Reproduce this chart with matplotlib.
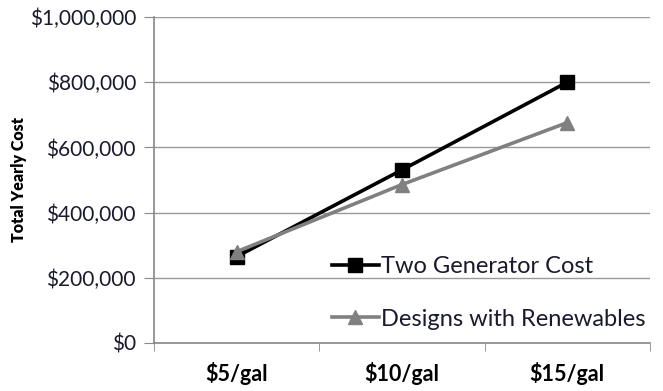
import matplotlib.pyplot as plt
import matplotlib.ticker as mticker
import numpy as np

categories = ["$5/gal", "$10/gal", "$15/gal"]
two_generator = [265000, 531000, 800000]
renewables = [280000, 486000, 676000]

plt.rcParams['font.family'] = ['Lato', 'DejaVu Sans']

fig = plt.figure(figsize=(6.63, 3.91), dpi=100)
ax = fig.add_axes([0.2323, 0.1228, 0.7480, 0.8337])

x = np.arange(len(categories)) + 0.5
ax.plot(x, two_generator, color='black', lw=2.6, marker='s', markersize=10,
        label='Two Generator Cost', zorder=3)
ax.plot(x, renewables, color='#808080', lw=2.6, marker='^', markersize=10,
        label='Designs with Renewables', zorder=3)

ax.set_xlim(0, 3)
ax.set_ylim(0, 1000000)
ax.set_yticks(np.arange(0, 1000001, 200000))
ax.yaxis.set_major_formatter(mticker.FuncFormatter(lambda v, p: f"${v:,.0f}"))
ax.set_xticks(x)
ax.set_xticklabels(categories, fontweight='bold', fontsize=15.5)
ax.set_xticks(np.arange(0, 4), minor=True)
ax.tick_params(axis='x', which='major', length=0, pad=14)
ax.tick_params(axis='x', which='minor', length=6, color='#888888', direction='out')
ax.tick_params(axis='y', length=7, color='#888888', labelsize=15, labelcolor='#1a1a2e', pad=6)

ax.grid(axis='y', color='#999999', lw=1)
ax.set_axisbelow(True)
for s in ['top', 'right']:
    ax.spines[s].set_visible(False)
for s in ['left', 'bottom']:
    ax.spines[s].set_color('#888888')
    ax.spines[s].set_linewidth(1.2)

ax.set_ylabel('Total Yearly Cost', fontweight='heavy', fontsize=11.5, labelpad=2)

ax.legend(loc='lower left', bbox_to_anchor=(0.325, -0.01), frameon=False,
          fontsize=17, labelspacing=1.35, handlelength=2.0, handletextpad=0.1,
          borderaxespad=0.3, labelcolor='#1a1a2e')

fig.savefig('out.png', dpi=100)
